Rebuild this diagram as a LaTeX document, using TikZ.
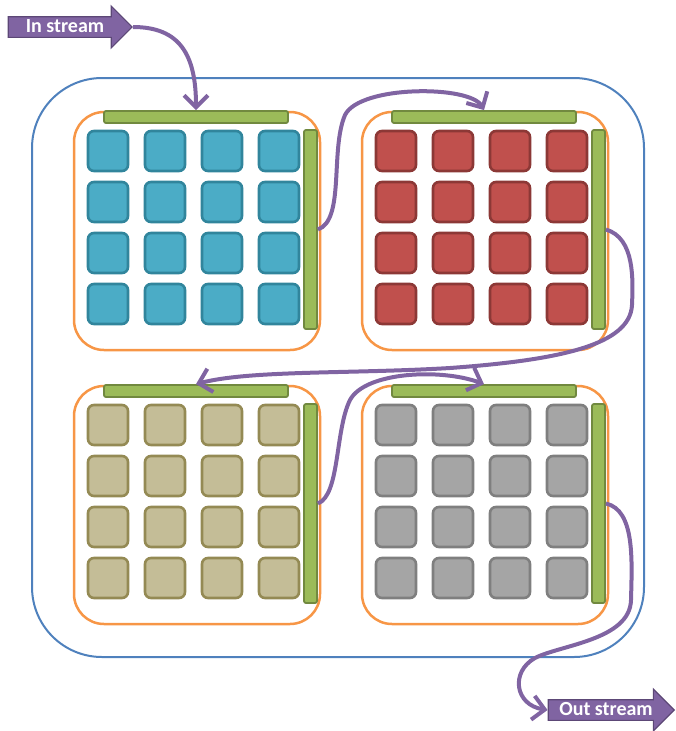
\documentclass[tikz,border=0pt]{standalone}
\usepackage{fontspec}
\setmainfont{Carlito}
\usetikzlibrary{shapes.arrows, arrows.meta}

\definecolor{outerblue}{HTML}{4F81BD}
\definecolor{quadorange}{HTML}{F79646}
\definecolor{bargreen}{HTML}{9BBB59}
\definecolor{bargreendk}{HTML}{71893F}
\definecolor{cellblue}{HTML}{4BACC6}
\definecolor{cellbluedk}{HTML}{31859C}
\definecolor{cellred}{HTML}{C0504D}
\definecolor{cellreddk}{HTML}{8C3836}
\definecolor{celltan}{HTML}{C4BD97}
\definecolor{celltandk}{HTML}{948A54}
\definecolor{cellgray}{HTML}{A5A5A5}
\definecolor{cellgraydk}{HTML}{7F7F7F}
\definecolor{streampurple}{HTML}{8064A2}
\definecolor{streampurpledk}{HTML}{5C4776}

\begin{document}
\begin{tikzpicture}[
			x=1pt, y=-1pt,
			board/.style={rectangle, draw=outerblue, line width=2pt, rounded corners=70pt},
			quad/.style={rectangle, draw=quadorange, line width=2.5pt, rounded corners=30pt, minimum width=246pt, minimum height=238pt},
			bar/.style={rectangle, draw=bargreendk, fill=bargreen, line width=1.8pt, rounded corners=2pt, inner sep=0pt},
			cell/.style={rectangle, rounded corners=6pt, line width=2.6pt, minimum size=40pt, inner sep=0pt},
			stream/.style={single arrow, draw=streampurpledk, fill=streampurple, line width=1.2pt, text=white,
				font=\fontsize{20}{23}\selectfont\bfseries, text height=13.5pt, text depth=3pt, inner ysep=1.5pt,
				single arrow head extend=10.5pt},
			flow/.style={draw=streampurple, line width=4pt, -{Straight Barb[length=12pt,width=24pt]}}
			]
			\useasboundingbox (0,0) rectangle (675,731);
			\node[board, minimum width=612pt, minimum height=579pt] (core) at (338,367.5) {};
			\foreach \nm/\dx/\dy/\fc/\lc in {tl/0/0/cellblue/cellbluedk, tr/288/0/cellred/cellreddk,
					bl/0/274/celltan/celltandk, br/288/274/cellgray/cellgraydk} {
				\node[quad] (\nm) at (197+\dx,231+\dy) {};
				\node[bar, minimum width=184pt, minimum height=12pt] (\nm-top) at (196+\dx,117+\dy) {};
				\node[bar, minimum width=13pt, minimum height=199pt] (\nm-side) at (310.5+\dx,229.5+\dy) {};
				\foreach \i in {0,...,3}
					\foreach \j in {0,...,3}
						\node[cell, fill=\fc, draw=\lc] (\nm-\i-\j) at (108+57*\i+\dx,151+51*\j+\dy) {};
			}
			\node[stream, inner xsep=17pt] (instream) at (65,27) {In stream};
			\node[stream, inner xsep=10.5pt] (outstream) at (606,710) {Out stream};
			\draw[flow] (instream.tip) .. controls (180,27) and (196,55) .. (tl-top.north);
			\draw[flow] (tl-side.east) .. controls (345,220) and (330,150) .. (345,115)
				.. controls (360,85) and (470,85) .. (tr-top.north);
			\draw[flow] (tr-side.east) .. controls (635,238) and (633,280) .. (632,305)
				.. controls (630,345) and (560,360) .. (450,368)
				.. controls (350,374) and (250,370) .. (bl-top.north);
			\draw[flow] (bl-side.east) .. controls (340,495) and (335,430) .. (350,400)
				.. controls (365,372) and (440,368) .. (br-top.north);
			\draw[flow] (br-side.east) .. controls (635,510) and (632,560) .. (631,600)
				.. controls (630,640) and (560,645) .. (535,658)
				.. controls (510,672) and (515,705) .. (outstream.west);
		\end{tikzpicture}
\end{document}
